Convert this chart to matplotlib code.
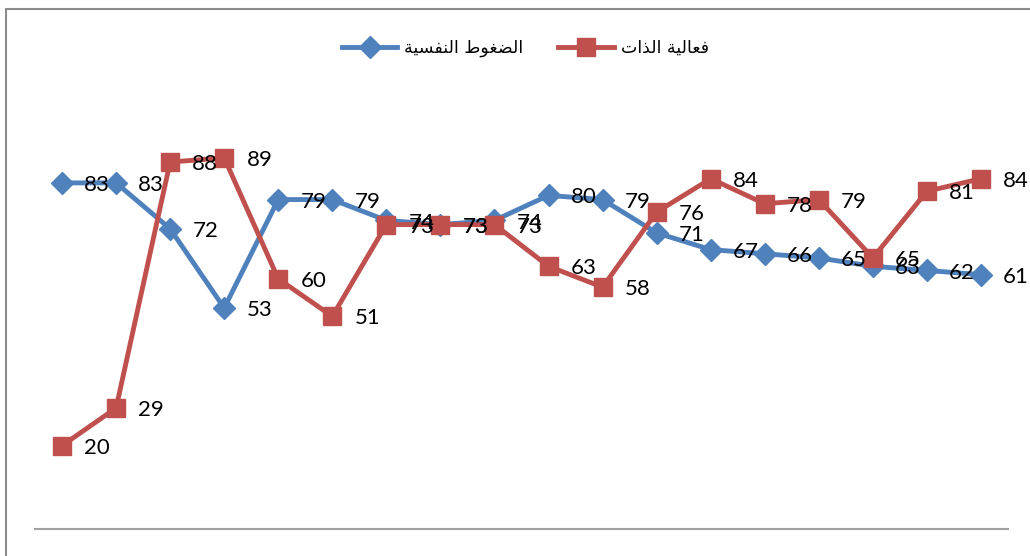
import matplotlib
matplotlib.use("Agg")
import matplotlib.pyplot as plt
from matplotlib.patches import Rectangle

# ——— Datos ———
stress_name = "الضغوط النفسية"
efficacy_name = "فعالية الذات"
stress = [83, 83, 72, 53, 79, 79, 74, 73, 74, 80, 79, 71, 67, 66, 65, 63, 62, 61]
efficacy = [20, 29, 88, 89, 60, 51, 73, 73, 73, 63, 58, 76, 84, 78, 79, 65, 81, 84]
x = list(range(len(stress)))

# ——— Formas árabes (sin reshaper disponible) ———
FORMS = {
    'ا': (0xFE8D, 0xFE8E, 0xFE8D, 0xFE8E),
    'ة': (0xFE93, 0xFE94, 0xFE93, 0xFE94),
    'ذ': (0xFEAB, 0xFEAC, 0xFEAB, 0xFEAC),
    'و': (0xFEED, 0xFEEE, 0xFEED, 0xFEEE),
    'ف': (0xFED1, 0xFED2, 0xFED3, 0xFED4),
    'ع': (0xFEC9, 0xFECA, 0xFECB, 0xFECC),
    'ل': (0xFEDD, 0xFEDE, 0xFEDF, 0xFEE0),
    'ي': (0xFEF1, 0xFEF2, 0xFEF3, 0xFEF4),
    'ت': (0xFE95, 0xFE96, 0xFE97, 0xFE98),
    'ض': (0xFEBD, 0xFEBE, 0xFEBF, 0xFEC0),
    'غ': (0xFECD, 0xFECE, 0xFECF, 0xFED0),
    'ط': (0xFEC1, 0xFEC2, 0xFEC3, 0xFEC4),
    'ن': (0xFEE5, 0xFEE6, 0xFEE7, 0xFEE8),
    'س': (0xFEB1, 0xFEB2, 0xFEB3, 0xFEB4),
}
RIGHT_ONLY = set('اةذو')


def shape(text):
    out = []
    for i, ch in enumerate(text):
        if ch not in FORMS:
            out.append(ch)
            continue
        prev = text[i - 1] if i > 0 else ''
        nxt = text[i + 1] if i + 1 < len(text) else ''
        jp = prev in FORMS and prev not in RIGHT_ONLY
        jn = nxt in FORMS and ch not in RIGHT_ONLY
        iso, fin, ini, med = FORMS[ch]
        if jp and jn:
            c = med
        elif jp:
            c = fin
        elif jn:
            c = ini
        else:
            c = iso
        out.append(chr(c))
    return ''.join(reversed(out))


BLUE = '#4F81BD'
RED = '#C0504D'

plt.rcParams['font.family'] = ['Lato', 'DejaVu Sans']

fig = plt.figure(figsize=(10.30, 5.56), dpi=100)
ax = fig.add_axes([35 / 1030, 27 / 556, 973 / 1030, 417 / 556])

ax.plot(x, stress, color=BLUE, lw=3.5, marker='D', ms=11, label=shape(stress_name), zorder=3)
ax.plot(x, efficacy, color=RED, lw=3.5, marker='s', ms=13, label=shape(efficacy_name), zorder=3)

for xi, v in zip(x, stress):
    ax.annotate(str(v), (xi, v), xytext=(16, -1.5), textcoords='offset points',
                ha='left', va='center', fontsize=16, color='black', zorder=5)
for xi, v in zip(x, efficacy):
    ax.annotate(str(v), (xi, v), xytext=(16, -1.5), textcoords='offset points',
                ha='left', va='center', fontsize=16, color='black', zorder=5)

ax.set_xlim(-0.5, len(x) - 0.5)
ax.set_ylim(0, 100)
ax.set_xticks([])
ax.set_yticks([])
for s in ['top', 'left', 'right']:
    ax.spines[s].set_visible(False)
ax.spines['bottom'].set_color('#A0A0A0')
ax.spines['bottom'].set_linewidth(1.5)
ax.patch.set_alpha(0)

leg = fig.legend(loc='center', bbox_to_anchor=(0.51, 0.914), ncol=2, frameon=False,
                 prop={'family': 'DejaVu Sans', 'size': 12.5}, handlelength=3.2,
                 columnspacing=2.0, handletextpad=0.4, numpoints=1)

# borde del área del gráfico
fig.patches.append(Rectangle((6 / 1030, -0.05), 1.2, 1 - 9 / 556 + 0.05,
                             transform=fig.transFigure, fill=False,
                             edgecolor='#8C8C8C', lw=1.5, zorder=0))

fig.savefig('out.png', dpi=100)
